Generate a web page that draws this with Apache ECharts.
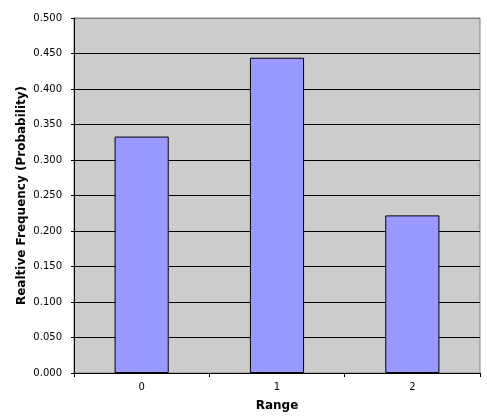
<!DOCTYPE html>
<html><head><meta charset="utf-8">
<script src="https://cdn.jsdelivr.net/npm/echarts@6/dist/echarts.min.js"></script>
<style>html,body{margin:0;padding:0;background:#fff}#c{width:487px;height:416px}</style>
</head><body><div id="c"></div>
<script>
const categories = ['0', '1', '2'];
const values = [0.333, 0.444, 0.222];
const yTicks = { min: 0, max: 0.5, interval: 0.05 };
const xTitle = 'Range';
const yTitle = 'Realtive Frequency (Probability)';

const nLines = Math.round((yTicks.max - yTicks.min) / yTicks.interval) + 1;
const splitColors = Array.from({ length: nLines }, (_, i) => i === nLines - 1 ? '#808080' : '#000');

const chart = echarts.init(document.getElementById('c'), null, { renderer: 'canvas' });
const font = 'DejaVu Sans, Verdana, sans-serif';
chart.setOption({
  animation: false,
  grid: { left: 74, right: 7, top: 18, bottom: 43, outerBoundsMode: 'none', containLabel: false, show: true, backgroundColor: '#CCCCCC', borderColor: '#808080', borderWidth: 1 },
  xAxis: {
    type: 'category', data: categories,
    name: xTitle, nameLocation: 'middle', nameGap: 27, nameMoveOverlap: false,
    nameTextStyle: { fontFamily: font, fontWeight: 'bold', fontSize: 12, color: '#000' },
    axisLine: { lineStyle: { color: '#000', width: 1 } },
    axisTick: { show: true, length: 4, alignWithLabel: false, lineStyle: { color: '#000' } },
    axisLabel: { fontFamily: font, fontSize: 10, color: '#000', margin: 9 },
    splitLine: { show: false }
  },
  yAxis: {
    type: 'value', min: yTicks.min, max: yTicks.max, interval: yTicks.interval,
    name: yTitle, nameLocation: 'middle', nameGap: 46, nameMoveOverlap: false,
    nameTextStyle: { fontFamily: font, fontWeight: 'bold', fontSize: 12, color: '#000' },
    axisLine: { show: true, lineStyle: { color: '#000', width: 1 } },
    axisTick: { show: true, length: 3, lineStyle: { color: '#000' } },
    axisLabel: { fontFamily: font, fontSize: 10, color: '#000', margin: 12, formatter: v => v.toFixed(3) },
    splitLine: { show: true, lineStyle: { color: splitColors, width: 1 } }
  },
  series: [{
    type: 'bar', data: values, barWidth: '40%',
    itemStyle: { color: '#9999FF', borderColor: '#000', borderWidth: 1 }
  }]
});
</script></body></html>
